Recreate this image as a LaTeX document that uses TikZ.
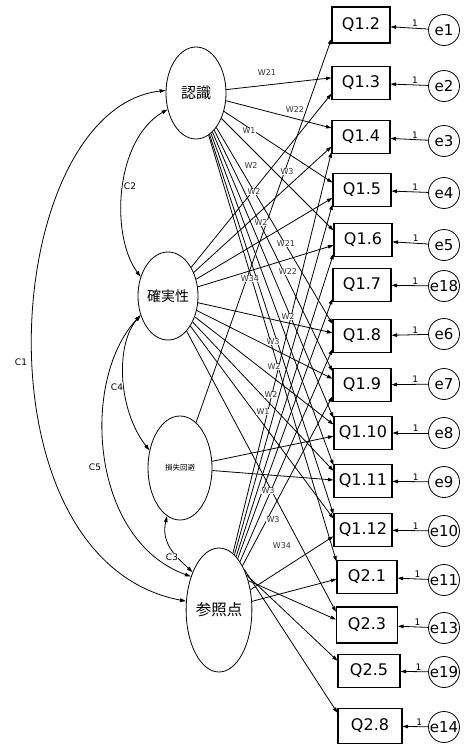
\documentclass[tikz,border=0pt]{standalone}
\usepackage{fontspec}
\setmainfont{DejaVu Sans}
\newfontfamily\jp{Noto Sans CJK JP}
\usetikzlibrary{arrows.meta,shapes.geometric}
\begin{document}
\begin{tikzpicture}[x=1pt,y=-1pt,
  lat/.style={draw, ellipse, line width=0.8pt, inner sep=0pt},
  obs/.style={draw, rectangle, line width=1.1pt, minimum width=58pt, minimum height=33pt, inner sep=0pt, font=\fontsize{16}{16}\selectfont},
  err/.style={draw, circle, line width=0.8pt, minimum size=31pt, inner sep=0pt, font=\fontsize{15}{15}\selectfont},
  reg/.style={line width=0.8pt, -{Triangle[length=5.5pt,width=3.6pt]}},
  cov/.style={line width=0.8pt, {Triangle[length=6pt,width=3.6pt]}-{Triangle[length=6pt,width=3.6pt]}},
  wlab/.style={font=\fontsize{8}{8}\selectfont, fill=white, inner sep=0.4pt, text=black!80},
  clab/.style={font=\fontsize{9}{9}\selectfont, fill=white, inner sep=0.4pt},
  one/.style={font=\fontsize{9}{9}\selectfont, inner sep=0.5pt}]
\useasboundingbox[fill=white] (0,0) rectangle (465,748);

% latent variables
\node[lat, minimum width=60pt, minimum height=92pt] (A) at (196,93) {\jp\fontsize{15}{15}\selectfont 認識};
\node[lat, minimum width=60pt, minimum height=88pt] (B) at (168,296) {\jp\fontsize{14}{14}\selectfont 確実性};
\node[lat, minimum width=64pt, minimum height=104pt] (C) at (180,468) {\jp\fontsize{7.5}{7.5}\selectfont 損失回避};
\node[lat, minimum width=62pt, minimum height=124pt] (D) at (219,610) {\jp\fontsize{15.5}{15.5}\selectfont 参照点};

% observed items
\node[obs, minimum height=36pt] (q12) at (361,25) {Q1.2};
\node[obs] (q13) at (361,83) {Q1.3};
\node[obs] (q14) at (361,137) {Q1.4};
\node[obs] (q15) at (362,190) {Q1.5};
\node[obs] (q16) at (363,240) {Q1.6};
\node[obs] (q17) at (362,285) {Q1.7};
\node[obs] (q18) at (362,336) {Q1.8};
\node[obs] (q19) at (362,385) {Q1.9};
\node[obs] (q110) at (363,433) {Q1.10};
\node[obs] (q111) at (363,481) {Q1.11};
\node[obs] (q112) at (363,530) {Q1.12};
\node[obs, minimum width=60pt] (q21) at (367,577) {Q2.1};
\node[obs, minimum width=61pt, minimum height=36pt] (q23) at (367,625) {Q2.3};
\node[obs, minimum width=62pt] (q25) at (369,671) {Q2.5};
\node[obs, minimum width=64pt, minimum height=35pt] (q28) at (370,726) {Q2.8};

% error terms
\foreach \e/\y/\q in {e1/30/q12, e2/86/q13, e3/141/q14, e4/193/q15, e5/245/q16,
  e18/286/q17, e6/334/q18, e7/384/q19, e8/433/q110, e9/482/q111, e10/531/q112,
  e11/580/q21, e13/628/q23, e19/672/q25, e14/727/q28}{
  \node[err] (\e) at (444,\y) {\e};
  \draw[reg] (\e) -- node[one, pos=0.35, above=0.5pt] {1} (\q);
}

% loadings (arrow ends on the left side of each item box)
\foreach \t/\a in {q13/170,q14/163,q15/166,q16/162,q18/158,q19/155,q110/153,q111/152,q112/152,q21/153}
  \draw[reg] (A) -- (\t.\a);
\foreach \t/\a in {q13/200,q14/198,q15/195,q16/190,q18/174,q19/168,q110/164,q111/161,q112/159,q23/157}
  \draw[reg] (B) -- (\t.\a);
\foreach \t/\a in {q12/205,q110/186,q111/178}
  \draw[reg] (C) -- (\t.\a);
\foreach \t/\a in {q14/207,q15/206,q16/205,q17/205,q18/204,q19/201,q112/192,q21/184}
  \draw[reg] (D) -- (\t.\a);
\draw[reg] (D.45) -- (q23.170);
\draw[reg] (D.52) -- (q25.162);
\draw[reg] (D.58) -- (q28.158);

% weight labels
\foreach \n/\x/\y/\w in {w1/267/73/W21, w2/295/110/W22, w3/249/131/W1, w4/251/166/W2,
  w5/287/172/W3, w6/254/192/W2, w7/261/223/W2, w8/286/244/W21, w9/288/272/W22,
  w10/250/279/W34, w11/288/317/W2, w12/273/342/W3, w13/274/367/W2, w14/271/395/W2,
  w15/263/412/W1, w16/268/491/W3, w17/273/520/W3, w18/282/546/W34}
  \node[wlab] (\n) at (\x,\y) {\w};

% covariances
\draw[cov] (A.175) .. controls (0,110) and (-30,560) .. (D.165);
\node[clab] (c1) at (21,362) {C1};
\draw[cov] (A.210) .. controls (115,140) and (110,235) .. (B.145);
\node[clab] (c2) at (130,186) {C2};
\draw[cov] (B.215) .. controls (115,345) and (118,410) .. (C.150);
\node[clab] (c4) at (117,387) {C4};
\draw[cov] (B.215) .. controls (80,380) and (90,540) .. (D.130);
\node[clab] (c5) at (95,467) {C5};
\draw[cov] (C.255) .. controls (160,545) and (180,560) .. (D.125);
\node[clab] (c3) at (172,557) {C3};
\end{tikzpicture}
\end{document}
